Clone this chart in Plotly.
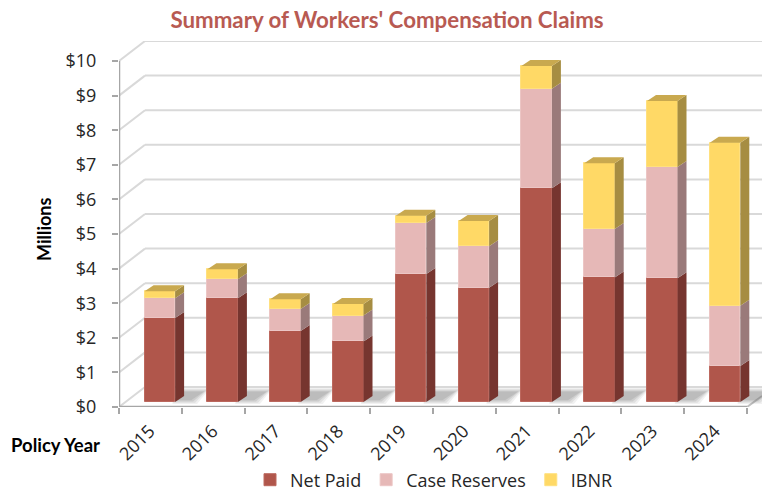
import plotly.graph_objects as go

years = ["2015","2016","2017","2018","2019","2020","2021","2022","2023","2024"]
net_paid =      [2.43, 3.00, 2.05, 1.75, 3.70, 3.30, 6.18, 3.60, 3.58, 1.04]
case_reserves = [0.57, 0.55, 0.64, 0.75, 1.47, 1.20, 2.87, 1.40, 3.21, 1.74]
ibnr =          [0.20, 0.29, 0.28, 0.33, 0.21, 0.73, 0.66, 1.90, 1.91, 4.71]
y_ticks = list(range(0, 11))
tick_text = [f"${v}" for v in y_ticks]

W, H = 762, 495
L, R, T, B = 119, 762, 41, 407
PX_X = 62.8
PX_Y = 34.6
xmax = (R - L) / PX_X
ymax = (B - T) / PX_Y
wall_dx = 26 / PX_X
wall_dy = 20 / PX_Y
bar_x0 = 25.6 / PX_X
bar_w = 30.5 / PX_X
bar_base = 5 / PX_Y
side_dx = 9 / PX_X
side_dy = 6 / PX_Y

series = [
    ("Net Paid", net_paid, "#B0564B", "#76352F", "#BC685E"),
    ("Case Reserves", case_reserves, "#E6B8B7", "#9A7A7A", "#ECC6C5"),
    ("IBNR", ibnr, "#FFD966", "#A68D42", "#FFE07E"),
]

fig = go.Figure()
shapes = []
for v in y_ticks:
    shapes.append(dict(type="line", layer="below", x0=0, y0=v, x1=wall_dx, y1=v + wall_dy,
                       line=dict(color="#D9D9D9", width=2)))
    shapes.append(dict(type="line", layer="below", x0=wall_dx, y0=v + wall_dy, x1=xmax, y1=v + wall_dy,
                       line=dict(color="#D9D9D9", width=2)))
shapes.append(dict(type="line", layer="below", x0=10, y0=0, x1=xmax, y1=11 / PX_Y,
                   line=dict(color="#BFBFBF", width=2)))
# soft floor shadows: stacked translucent parallelograms
for i in range(len(years)):
    xr = i + bar_x0 + bar_w
    for grow, alpha in ((5, 0.10), (3, 0.14), (1, 0.18), (-1, 0.2)):
        g = grow / PX_X
        gy = grow * 0.6 / PX_Y
        y_low = max(bar_base + 0.03 - gy, 0.02)
        y_high = bar_base + 11 / PX_Y + gy
        shapes.append(dict(type="path", layer="below",
                           path=f"M {xr - 3 / PX_X} {y_low} L {xr + 17 / PX_X + g} {y_low} "
                                f"L {xr + 30 / PX_X + g} {y_high} L {xr + 9 / PX_X} {y_high} Z",
                           fillcolor=f"rgba(120,120,120,{alpha})", line=dict(width=0)))

bottom = [0.0] * len(years)
for name, vals, front, side, edge in series:
    fig.add_trace(go.Bar(
        name=name, x=[i + bar_x0 + bar_w / 2 for i in range(len(years))], y=vals,
        base=[b + bar_base for b in bottom], width=bar_w,
        marker=dict(color=front, line=dict(color=edge, width=1)),
    ))
    sx, sy = [], []
    for i, (b, v) in enumerate(zip(bottom, vals)):
        xr = i + bar_x0 + bar_w
        y0 = b + bar_base
        y1 = y0 + v
        sx += [xr, xr + side_dx, xr + side_dx, xr, xr, None]
        sy += [y0, y0 + side_dy, y1 + side_dy, y1, y0, None]
    fig.add_trace(go.Scatter(x=sx, y=sy, mode="lines", fill="toself", fillcolor=side,
                             line=dict(width=0, color=side), showlegend=False, hoverinfo="skip"))
    bottom = [b + v for b, v in zip(bottom, vals)]

tx, ty = [], []
for i, b in enumerate(bottom):
    xl = i + bar_x0
    y1 = b + bar_base
    tx += [xl, xl + side_dx, xl + bar_w + side_dx, xl + bar_w, xl, None]
    ty += [y1, y1 + side_dy, y1 + side_dy, y1, y1, None]
fig.add_trace(go.Scatter(x=tx, y=ty, mode="lines", fill="toself", fillcolor="#C9A94F",
                         line=dict(width=0, color="#C9A94F"), showlegend=False, hoverinfo="skip"))

fig.add_trace(go.Scatter(x=[0, 0, 10], y=[y_ticks[-1], 0, 0], mode="lines", cliponaxis=False,
                         line=dict(color="#A6A6A6", width=2.5), showlegend=False, hoverinfo="skip"))

TEXT = "#262626"
fig.update_layout(
    width=W, height=H, paper_bgcolor="white", plot_bgcolor="white",
    margin=dict(l=L, r=W - R, t=T, b=H - B, pad=0, autoexpand=False),
    barmode="overlay", bargap=0, shapes=shapes, showlegend=True,
    font=dict(family="Open Sans", color=TEXT),
    title=dict(text="<b>Summary of Workers' Compensation Claims</b>", x=387 / W, xanchor="center",
               y=1 - 20 / H, yanchor="middle", font=dict(family="Lato", size=22.3, color="#B85A52")),
    legend=dict(orientation="h", x=(250 - L) / (R - L), xanchor="left", y=(B - 480) / (B - T), yanchor="middle",
                font=dict(size=18, family="Open Sans", color=TEXT), bgcolor="rgba(0,0,0,0)", traceorder="normal"),
    xaxis=dict(range=[0, xmax], showgrid=False, zeroline=False, showline=False,
               tickmode="array", tickvals=[i + 0.49 for i in range(len(years))], ticktext=years,
               tickangle=-45, ticks="", tickfont=dict(size=18, family="Open Sans", color=TEXT),
               ticklen=6, tickcolor="rgba(0,0,0,0)", ticklabelstandoff=9,
               minor=dict(tickmode="array", tickvals=list(range(len(years) + 1)), ticks="outside",
                          ticklen=6, tickcolor="#A6A6A6", tickwidth=2, showgrid=False)),
    yaxis=dict(range=[0, ymax], showgrid=False, zeroline=False, showline=False,
               tickmode="array", tickvals=y_ticks, ticktext=tick_text, ticks="outside", ticklen=6,
               tickcolor="#A6A6A6", tickwidth=2, ticklabelstandoff=12,
               tickfont=dict(size=18, family="Open Sans", color=TEXT)),
    annotations=[
        dict(text="<b>Millions</b>", xref="paper", yref="paper", x=(44 - L) / (R - L), y=(B - 230) / (B - T),
             xanchor="center", yanchor="middle", textangle=-90, showarrow=False,
             font=dict(family="Lato", size=18, color="#000000")),
        dict(text="<b>Policy Year</b>", xref="paper", yref="paper", x=(55 - L) / (R - L), y=(B - 445) / (B - T),
             xanchor="center", yanchor="middle", showarrow=False,
             font=dict(family="Lato", size=18.5, color="#000000")),
    ],
)
fig.write_html("out.html", config=dict(displayModeBar=False),
               post_script="document.body.style.margin='0';document.body.style.overflow='hidden';")
